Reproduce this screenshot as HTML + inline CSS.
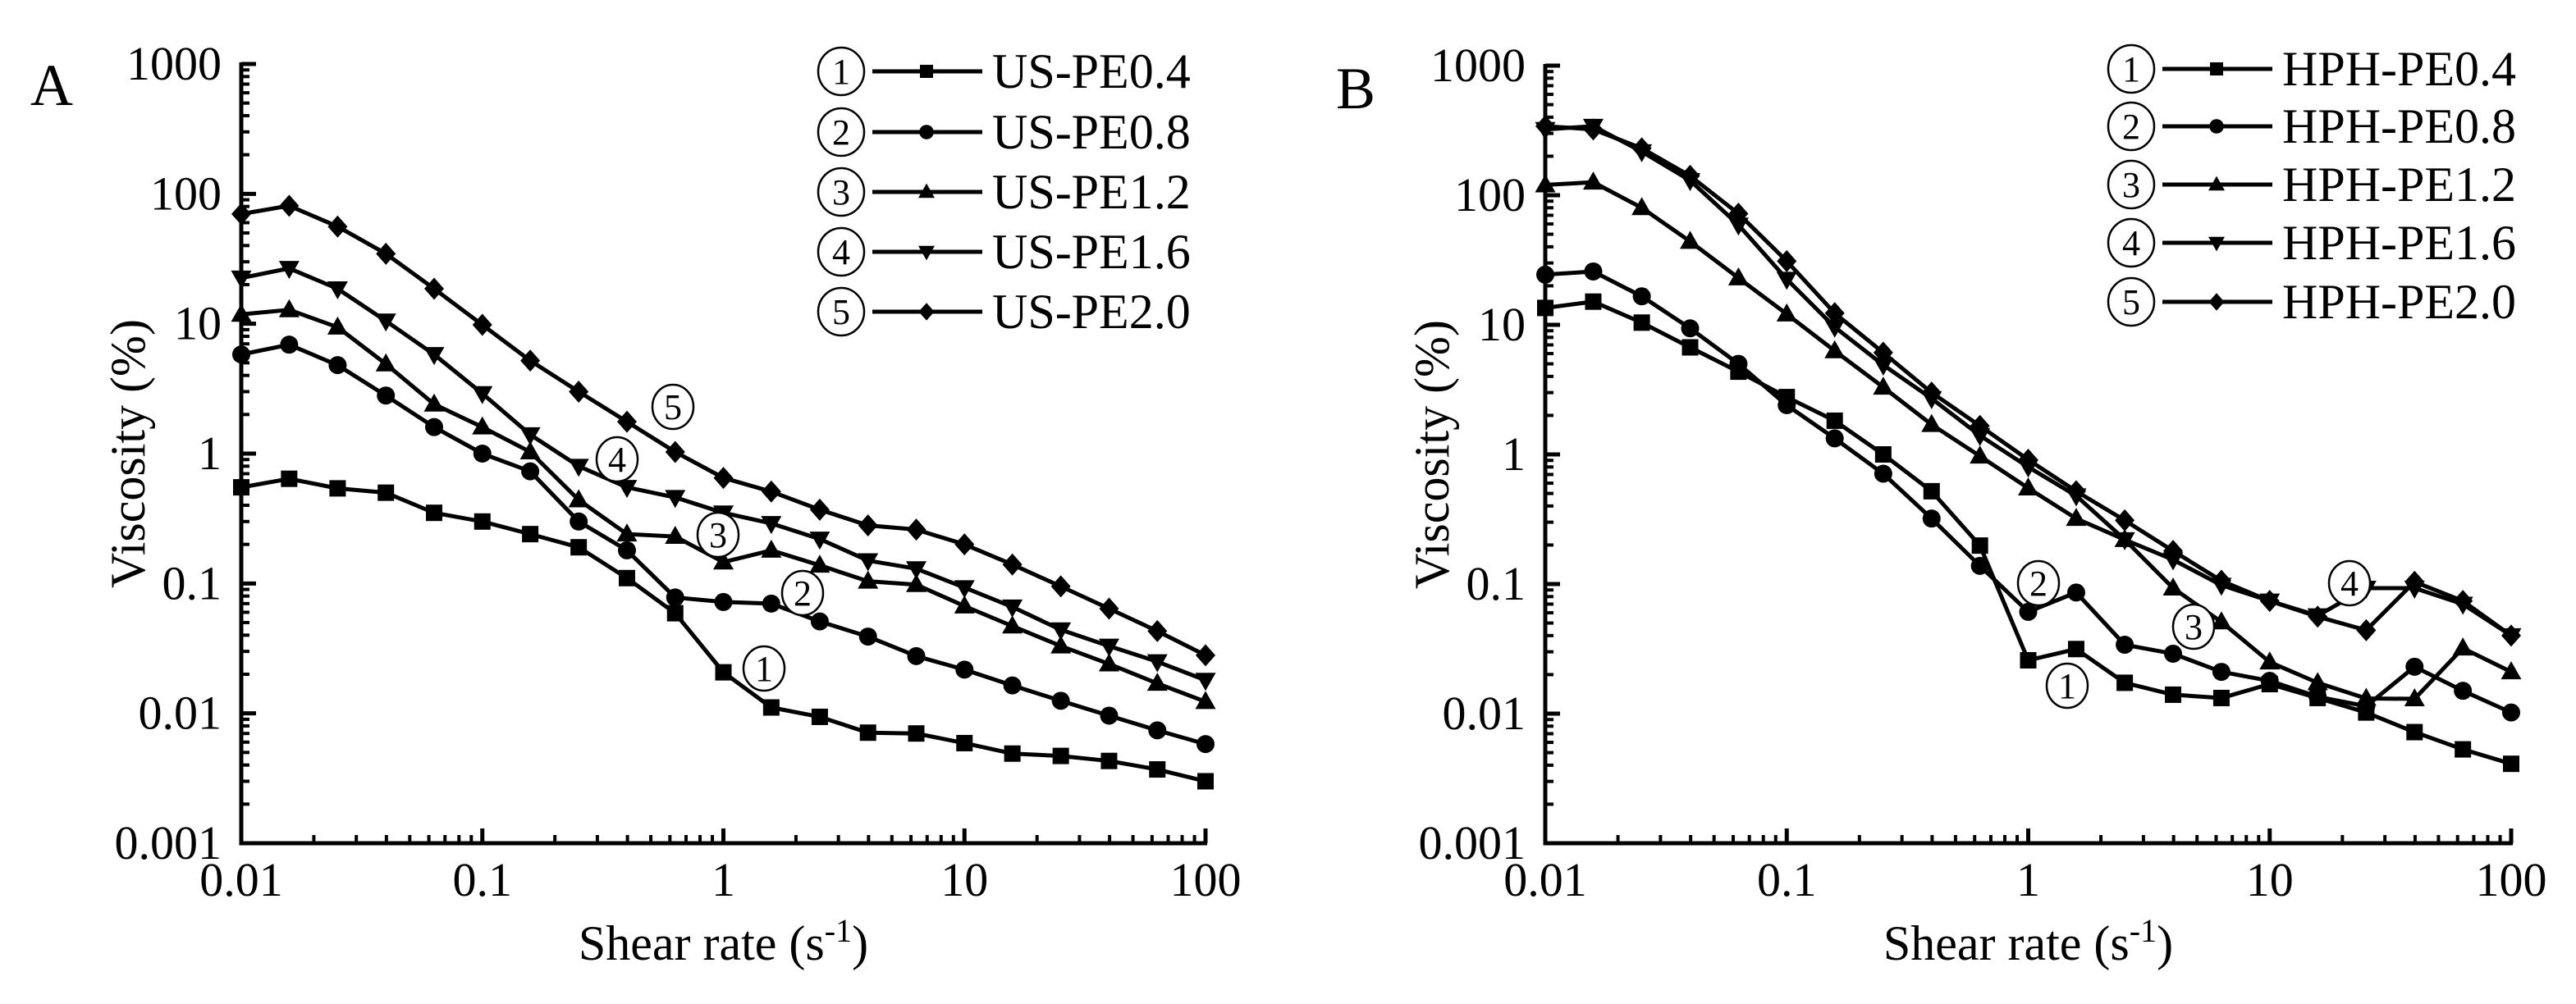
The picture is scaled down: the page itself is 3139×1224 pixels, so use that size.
<!DOCTYPE html>
<html><head><meta charset="utf-8"><style>
html,body{margin:0;padding:0;background:#fff;}
svg, svg text{font-family:"Liberation Serif","DejaVu Serif",serif;}
</style></head><body>
<svg id="fig" width="3139" height="1219" viewBox="0 0 3139 1219" xmlns="http://www.w3.org/2000/svg" font-family="Liberation Serif, serif"></svg>
<script>
const shearRates = [0.01,0.0158,0.0251,0.0398,0.0631,0.1,0.158,0.251,0.398,0.631,1,1.58,2.51,3.98,6.31,10,15.8,25.1,39.8,63.1,100];
const xTickLabels = ["0.01","0.1","1","10","100"];
const yTickLabels = ["0.001","0.01","0.1","1","10","100","1000"];
const seriesNamesA = ["US-PE0.4","US-PE0.8","US-PE1.2","US-PE1.6","US-PE2.0"];
const seriesNamesB = ["HPH-PE0.4","HPH-PE0.8","HPH-PE1.2","HPH-PE1.6","HPH-PE2.0"];
const markers = ["square","circle","triangle","down","diamond"];
const usPE04 = [0.55,0.64,0.54,0.50,0.35,0.30,0.24,0.19,0.11,0.059,0.0207,0.0111,0.0094,0.0071,0.0070,0.0059,0.0049,0.0047,0.0043,0.0037,0.0030];
const usPE08 = [5.8,6.9,4.8,2.8,1.6,1.0,0.73,0.30,0.18,0.078,0.072,0.070,0.051,0.039,0.0276,0.0217,0.0164,0.0125,0.0096,0.0074,0.0058];
const usPE12 = [11.8,12.8,9.4,4.9,2.4,1.6,1.03,0.44,0.24,0.23,0.146,0.18,0.138,0.104,0.098,0.067,0.047,0.033,0.024,0.017,0.0123];
const usPE16 = [22.5,26.7,18.6,10.5,5.8,2.9,1.4,0.80,0.55,0.46,0.35,0.29,0.22,0.15,0.13,0.093,0.066,0.044,0.033,0.025,0.018];
const usPE20 = [70,81,56,34.6,18.6,9.8,5.2,3.0,1.76,1.03,0.65,0.51,0.37,0.28,0.26,0.20,0.14,0.095,0.064,0.043,0.028];
const hphPE04 = [13.5,15.1,10.4,6.7,4.35,2.77,1.82,1.0,0.52,0.198,0.0258,0.0315,0.0173,0.014,0.0132,0.0169,0.0132,0.0102,0.0072,0.0053,0.0041];
const hphPE08 = [24.4,25.8,16.6,9.4,5.0,2.4,1.33,0.71,0.32,0.138,0.061,0.086,0.034,0.029,0.021,0.0179,0.0135,0.0114,0.023,0.015,0.0102];
const hphPE12 = [120,126,80,44,23,12.1,6.3,3.3,1.70,0.97,0.55,0.32,0.22,0.093,0.051,0.025,0.0173,0.0131,0.013,0.032,0.021];
const hphPE16 = [322,341,217,130,59,22.5,9.6,4.9,2.7,1.4,0.80,0.48,0.22,0.154,0.098,0.074,0.057,0.093,0.093,0.070,0.040];
const hphPE20 = [341,322,230,141,72,31,12.3,6.1,3.0,1.66,0.91,0.52,0.31,0.18,0.106,0.074,0.056,0.044,0.104,0.074,0.040];

const NS="http://www.w3.org/2000/svg";
const FONT='"Liberation Serif", serif';
const svg=document.getElementById('fig');
function mk(tag,attrs,parent){const e=document.createElementNS(NS,tag);for(const k in attrs)e.setAttribute(k,attrs[k]);if(tag==='text')e.setAttribute('font-family',FONT);(parent||svg).appendChild(e);return e;}

function markerShape(g,type,x,y,s){
  let e;
  if(type==="square") e=mk('rect',{x:x-s,y:y-s,width:2*s,height:2*s,fill:'#000'},g);
  else if(type==="circle") e=mk('circle',{cx:x,cy:y,r:s*1.1,fill:'#000'},g);
  else if(type==="triangle") e=mk('polygon',{points:`${x},${y-s*1.3} ${x-s*1.25},${y+s*0.9} ${x+s*1.25},${y+s*0.9}`,fill:'#000'},g);
  else if(type==="down") e=mk('polygon',{points:`${x},${y+s*1.3} ${x-s*1.25},${y-s*0.9} ${x+s*1.25},${y-s*0.9}`,fill:'#000'},g);
  else e=mk('polygon',{points:`${x},${y-s*1.35} ${x+s*1.2},${y} ${x},${y+s*1.35} ${x-s*1.2},${y}`,fill:'#000'},g);
  return e;
}
function circNum(parent,cx,cy,n,rx,ry,name){
  const g=mk('g',{},parent);
  
  
  mk('ellipse',{cx:cx,cy:cy,rx:rx,ry:ry,fill:'#fff',stroke:'#000','stroke-width':2.5},g);
  const t=mk('text',{x:cx,y:cy+15,'text-anchor':'middle','font-size':44},g);
  t.textContent=String(n);
  return g;
}

function panel(cfg){
  const {x0,x1,y0,y1,series,names,letter,lx,ly,legX,legRows,annots,id}=cfg;
  const root=mk('g',{});
  
  
  const X=v=>x0+(Math.log10(v)+2)/4*(x1-x0);
  const Y=v=>y1-(Math.log10(v)+3)/6*(y1-y0);
  const L=mk('text',{x:lx,y:ly,'font-size':72,'text-anchor':'middle'},root);
  L.textContent=letter;
  
  
  const ax=mk('g',{},root);
  
  
  mk('path',{d:`M${x0},${y0-2} L${x0},${y1} L${x1+2},${y1}`,fill:'none',stroke:'#000','stroke-width':5},ax);
  for(let d=-3;d<=3;d++){
    const yy=Y(Math.pow(10,d));
    mk('line',{x1:x0,y1:yy,x2:x0+18,y2:yy,stroke:'#000','stroke-width':5},ax);
    const t=mk('text',{x:x0-24,y:yy+19,'text-anchor':'end','font-size':58},ax);
    t.textContent=yTickLabels[d+3];
    
    
    if(d<3) for(let m=2;m<=9;m++){const ym=Y(m*Math.pow(10,d));mk('line',{x1:x0,y1:ym,x2:x0+10,y2:ym,stroke:'#000','stroke-width':4},ax);}
  }
  for(let d=-2;d<=2;d++){
    const xx=X(Math.pow(10,d));
    mk('line',{x1:xx,y1:y1,x2:xx,y2:y1-18,stroke:'#000','stroke-width':5},ax);
    const t=mk('text',{x:xx,y:y1+64,'text-anchor':'middle','font-size':58},ax);
    t.textContent=xTickLabels[d+2];
    
    
    if(d<2) for(let m=2;m<=9;m++){const xm=X(m*Math.pow(10,d));mk('line',{x1:xm,y1:y1,x2:xm,y2:y1-10,stroke:'#000','stroke-width':4},ax);}
  }
  const xt=mk('text',{x:(x0+x1)/2,y:y1+142,'text-anchor':'middle','font-size':60},root);
  xt.innerHTML='Shear rate (s<tspan dy="-22" font-size="40">-1</tspan><tspan dy="22">)</tspan>';
  
  
  const yt=mk('text',{x:0,y:0,'text-anchor':'middle','font-size':60,transform:`translate(${x0-118},${(y0+y1)/2}) rotate(-90)`},root);
  yt.textContent='Viscosity (%)';
  
  
  series.forEach((vals,si)=>{
    const g=mk('g',{},root);
    
    
    const pts=vals.map((v,i)=>[X(shearRates[i]),Y(v)]);
    mk('polyline',{points:pts.map(p=>p.join(',')).join(' '),fill:'none',stroke:'#000','stroke-width':5,'stroke-linejoin':'round'},g);
    pts.forEach(p=>{const m=markerShape(g,markers[si],p[0],p[1],10);
      
      });
  });
  const lg=mk('g',{},root);
  
  
  names.forEach((n,i)=>{
    const ry=legRows[i];
    const e=mk('g',{},lg);
    
    
    circNum(e,legX,ry,i+1,28,29,'legend-number');
    mk('line',{x1:legX+38,y1:ry,x2:legX+172,y2:ry,stroke:'#000','stroke-width':5},e);
    markerShape(e,markers[i],legX+104,ry,8);
    const t=mk('text',{x:legX+184,y:ry+20,'font-size':60},e);
    t.textContent=n;
  });
  annots.forEach(a=>circNum(root,a[0],a[1],a[2],25,27,'curve-annotation-'+a[2]));
}

panel({id:'a',x0:294,x1:1469,y0:78,y1:1028,series:[usPE04,usPE08,usPE12,usPE16,usPE20],names:seriesNamesA,
  letter:'A',lx:63,ly:128,legX:1025,legRows:[87,161,234,307,380],
  annots:[[820,496,5],[752,560,4],[875,652,3],[978,723,2],[931,815,1]]});
panel({id:'b',x0:1883,x1:3060,y0:80,y1:1028,series:[hphPE04,hphPE08,hphPE12,hphPE16,hphPE20],names:seriesNamesB,
  letter:'B',lx:1652,ly:132,legX:2597,legRows:[84,154,225,296,368],
  annots:[[2484,711,2],[2519,836,1],[2673,764,3],[2863,711,4]]});
</script>
</body></html>
